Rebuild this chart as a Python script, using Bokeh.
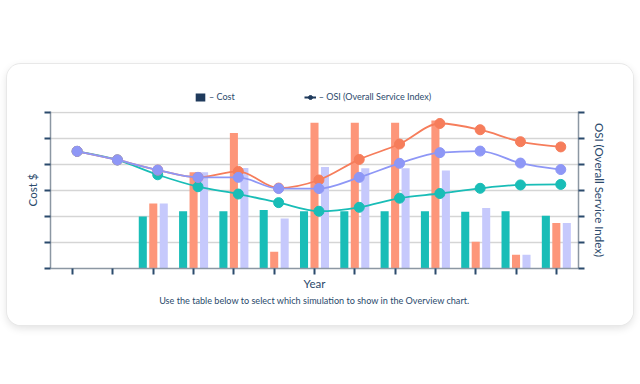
from bokeh.plotting import figure
from bokeh.models import (Range1d, LinearAxis, FixedTicker, Legend, LegendItem,
                          Title, ColumnDataSource, Spacer)
from bokeh.layouts import column, row
from bokeh.transform import dodge
from bokeh.embed import file_html
from bokeh.resources import INLINE

nan = float("nan")

# ---- data -------------------------------------------------------------
periods = list(range(13))
cost_teal = [nan, nan, 2.0, 2.2, 2.2, 2.25, 2.2, 2.2, 2.2, 2.2, 2.18, 2.2, 2.03]
cost_salmon = [nan, nan, 2.5, 3.7, 5.2, 0.64, 5.6, 5.6, 5.6, 5.68, 1.03, 0.53, 1.75]
cost_lavender = [nan, nan, 2.5, 3.7, 3.86, 1.92, 3.9, 3.85, 3.85, 3.76, 2.32, 0.53, 1.75]

osi_teal = [4.5, 4.17, 3.6, 3.14, 2.86, 2.53, 2.2, 2.35, 2.7, 2.88, 3.08, 3.21, 3.23]
osi_salmon = [4.5, 4.17, 3.78, 3.5, 3.73, 3.09, 3.4, 4.19, 4.78, 5.57, 5.33, 4.87, 4.67]
osi_lavender = [4.5, 4.17, 3.78, 3.5, 3.5, 3.07, 3.07, 3.5, 4.04, 4.45, 4.51, 4.05, 3.8]

y_ticks = [0, 1, 2, 3, 4, 5, 6]

TEAL = "#19bdb7"
SALMON_BAR = "#fd967a"
LAV_BAR = "#c6c9fc"
SALMON_LINE = "#f67d5b"
LAV_LINE = "#8e97f6"
NAVY = "#2b4a6c"
ICON = "#1f3a5c"
FONT = "Lato"


def monotone_slopes(xs, ys):
    n = len(xs)
    h = [xs[i + 1] - xs[i] for i in range(n - 1)]
    s = [(ys[i + 1] - ys[i]) / h[i] for i in range(n - 1)]
    m = [0.0] * n
    sign = lambda v: (v > 0) - (v < 0)
    for i in range(1, n - 1):
        p = (s[i - 1] * h[i] + s[i] * h[i - 1]) / (h[i - 1] + h[i])
        m[i] = (sign(s[i - 1]) + sign(s[i])) * min(abs(s[i - 1]), abs(s[i]), 0.5 * abs(p))
    m[0] = (3 * s[0] - m[1]) / 2
    m[-1] = (3 * s[-1] - m[-2]) / 2
    return m


def bezier_source(xs, ys):
    m = monotone_slopes(xs, ys)
    d = dict(x0=[], y0=[], x1=[], y1=[], cx0=[], cy0=[], cx1=[], cy1=[])
    for i in range(len(xs) - 1):
        h = xs[i + 1] - xs[i]
        d["x0"].append(xs[i]); d["y0"].append(ys[i])
        d["x1"].append(xs[i + 1]); d["y1"].append(ys[i + 1])
        d["cx0"].append(xs[i] + h / 3); d["cy0"].append(ys[i] + m[i] * h / 3)
        d["cx1"].append(xs[i + 1] - h / 3); d["cy1"].append(ys[i + 1] - m[i + 1] * h / 3)
    return ColumnDataSource(d)


# ---- legend header figure ---------------------------------------------
lg = figure(width=626, height=47, x_range=Range1d(0, 1), y_range=Range1d(0, 1),
            x_axis_type=None, y_axis_type=None, output_backend="svg", toolbar_location=None,
            min_border=0, outline_line_color=None,
            background_fill_color="white", border_fill_color="white")
lg.xgrid.grid_line_color = None
lg.ygrid.grid_line_color = None
r_cost = lg.vbar(x=[nan], top=[nan], width=0.2, fill_color=ICON, line_color=None,
                 hatch_pattern="v_line", hatch_color="white", hatch_weight=1.6, hatch_scale=3.5)
r_ol = lg.line(x=[nan], y=[nan], line_color=ICON, line_width=1.8)
r_op = lg.scatter(x=[nan], y=[nan], size=4, fill_color=ICON, line_color=ICON)
legend = Legend(items=[LegendItem(label="– Cost", renderers=[r_cost]),
                       LegendItem(label="– OSI (Overall Service Index)", renderers=[r_ol, r_op])],
                orientation="horizontal", location=(144, 9),
                glyph_width=12, glyph_height=10, label_standoff=3, spacing=69,
                padding=0, margin=0, border_line_color=None, background_fill_alpha=0,
                label_text_font=FONT, label_text_font_size="9px", label_text_color=NAVY,
                label_height=11)
lg.add_layout(legend)

# ---- main chart --------------------------------------------------------
bars = ColumnDataSource(dict(x=periods, teal=cost_teal, salmon=cost_salmon, lav=cost_lavender))
line_x = [x + 0.11 for x in periods]

p = figure(width=626, height=214, x_range=Range1d(-0.55, 12.55), y_range=Range1d(0, 6.03),
           output_backend="svg", toolbar_location=None,
           min_border_left=43, min_border_right=55, min_border_top=0, min_border_bottom=57,
           background_fill_color="white", border_fill_color="white", outline_line_color=None)
p.extra_y_ranges = {"osi": Range1d(0, 6.03)}

p.xgrid.grid_line_color = None
p.ygrid.ticker = FixedTicker(ticks=y_ticks)
p.ygrid.grid_line_color = "#d5d5d5"
p.ygrid.grid_line_width = 1.5


def style_axis(ax, label, ticks):
    ax.ticker = FixedTicker(ticks=ticks)
    ax.major_label_overrides = {t: "" for t in ticks}
    ax.axis_label = label
    ax.axis_label_text_font = FONT
    ax.axis_label_text_font_size = "11.5px"
    ax.axis_label_text_font_style = "normal"
    ax.axis_label_text_color = NAVY
    ax.major_label_text_font_size = "1px"
    ax.major_label_standoff = 0
    ax.major_tick_in = 0
    ax.major_tick_out = 6
    ax.major_tick_line_color = NAVY
    ax.major_tick_line_width = 2
    ax.minor_tick_line_color = None
    ax.axis_line_color = "#8c97a3"
    ax.axis_line_width = 1.5


style_axis(p.xaxis[0], "Year", periods)
p.xaxis[0].axis_label_standoff = 2
style_axis(p.yaxis[0], "Cost $", y_ticks)
p.yaxis[0].axis_label_standoff = 6
right = LinearAxis(y_range_name="osi")
style_axis(right, "OSI (Overall Service Index)", y_ticks)
right.axis_label_standoff = 8
p.add_layout(right, "right")

p.vbar(x=dodge("x", -0.26, range=p.x_range), top="teal", width=0.2, source=bars,
       fill_color=TEAL, line_color=None)
p.vbar(x=dodge("x", 0.0, range=p.x_range), top="salmon", width=0.2, source=bars,
       fill_color=SALMON_BAR, line_color=None)
p.vbar(x=dodge("x", 0.26, range=p.x_range), top="lav", width=0.2, source=bars,
       fill_color=LAV_BAR, line_color=None)

for ys, col in [(osi_teal, TEAL), (osi_salmon, SALMON_LINE), (osi_lavender, LAV_LINE)]:
    p.bezier(x0="x0", y0="y0", x1="x1", y1="y1", cx0="cx0", cy0="cy0", cx1="cx1", cy1="cy1",
             source=bezier_source(line_x, ys), line_color=col, line_width=1.8, y_range_name="osi")
    p.scatter(line_x, ys, size=10, fill_color=col, line_color=col, y_range_name="osi")

p.add_layout(Title(text="Use the table below to select which simulation to show in the Overview chart.",
                   align="center", text_font=FONT, text_font_size="9.1px",
                   text_font_style="normal", text_color=NAVY, standoff=0), "below")

card = column(lg, p)
card.styles = {"border-radius": "14px",
               "box-shadow": "0 0 0 1px #e8e8e8, 0 3px 8px rgba(0,0,0,0.13)",
               "overflow": "hidden", "background-color": "white"}

layout = column(Spacer(height=64, width=10), row(Spacer(width=7, height=10), card))
open("out.html", "w").write(file_html(layout, INLINE))
